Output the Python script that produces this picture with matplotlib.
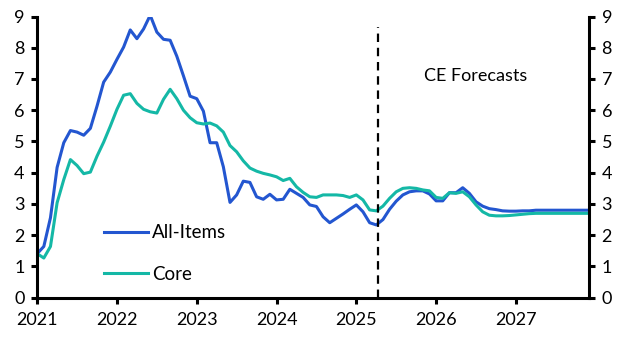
import matplotlib
matplotlib.use("Agg")
import matplotlib.pyplot as plt
import numpy as np

plt.rcParams['font.family'] = ['Lato', 'DejaVu Sans']

# Monthly data, Jan 2021 .. Dec 2027
all_items = [1.41, 1.64, 2.56, 4.17, 4.96, 5.35, 5.30, 5.20, 5.42, 6.13, 6.90, 7.22,
             7.63, 8.02, 8.57, 8.29, 8.60, 9.04, 8.50, 8.27, 8.24, 7.73, 7.10, 6.45,
             6.37, 5.97, 4.96, 4.96, 4.19, 3.05, 3.29, 3.73, 3.69, 3.23, 3.15, 3.31,
             3.13, 3.15, 3.47, 3.34, 3.21, 2.97, 2.92, 2.59, 2.40, 2.54, 2.68, 2.83,
             2.97, 2.75, 2.40, 2.33, 2.50, 2.83, 3.09, 3.29, 3.39, 3.42, 3.42, 3.32,
             3.10, 3.10, 3.36, 3.36, 3.52, 3.34, 3.07, 2.93, 2.85, 2.82, 2.78, 2.77,
             2.77, 2.78, 2.78, 2.80, 2.80, 2.80, 2.80, 2.80, 2.80, 2.80, 2.80, 2.80]
core = [1.41, 1.27, 1.64, 3.04, 3.78, 4.42, 4.23, 3.97, 4.02, 4.53, 4.98, 5.49,
        6.03, 6.48, 6.53, 6.22, 6.03, 5.95, 5.91, 6.35, 6.67, 6.37, 6.00, 5.76,
        5.60, 5.56, 5.59, 5.50, 5.30, 4.87, 4.67, 4.38, 4.15, 4.05, 3.98, 3.93,
        3.87, 3.75, 3.82, 3.55, 3.37, 3.23, 3.21, 3.29, 3.29, 3.29, 3.27, 3.21,
        3.29, 3.13, 2.81, 2.78, 2.93, 3.18, 3.39, 3.50, 3.52, 3.50, 3.45, 3.42,
        3.21, 3.18, 3.36, 3.34, 3.39, 3.23, 2.97, 2.75, 2.64, 2.62, 2.62, 2.63,
        2.65, 2.67, 2.69, 2.70, 2.70, 2.70, 2.70, 2.70, 2.70, 2.70, 2.70, 2.70]
year_ticks = [2021, 2022, 2023, 2024, 2025, 2026, 2027]
y_ticks = list(range(0, 10))
forecast_start = 2025.275  # mid-April 2025
labels = ["All-Items", "Core"]
colors = ["#2356D0", "#14B8A6"]

x = 2021 + np.arange(len(all_items)) / 12

fig = plt.figure(figsize=(6.3, 3.55), dpi=100)
ax = fig.add_axes([0.059, 0.1614, 0.876, 0.7921])

ax.plot(x, all_items, color=colors[0], lw=2.2, label=labels[0], solid_joinstyle='round')
ax.plot(x, core, color=colors[1], lw=2.2, label=labels[1], solid_joinstyle='round')
ax.vlines(forecast_start, 0, 8.65, colors='black', linestyles=(0, (3.8, 2.6)), lw=1.6)
ax.text(2021 + 66 / 12, 7.1, "CE Forecasts", ha='center', va='center', fontsize=13)

ax.set_xlim(x[0], x[-1])
ax.set_ylim(0, 9)
ax.set_xticks(year_ticks)
ax.set_xticklabels([str(y) for y in year_ticks])
ax.set_yticks(y_ticks)

for s in ['left', 'right', 'bottom']:
    ax.spines[s].set_linewidth(2.2)
ax.spines['top'].set_visible(False)
ax.tick_params(axis='both', direction='out', length=4, width=2.2, labelsize=13)
ax.tick_params(axis='y', left=True, right=True, labelleft=True, labelright=True, pad=5)
ax.tick_params(axis='x', pad=6)

leg = ax.legend(loc='center left', bbox_to_anchor=(0.121, 0.157), frameon=False,
                fontsize=13.5, handlelength=2.35, handletextpad=0.2, labelspacing=1.3,
                borderpad=0, borderaxespad=0)

fig.savefig("out.png", dpi=100)
